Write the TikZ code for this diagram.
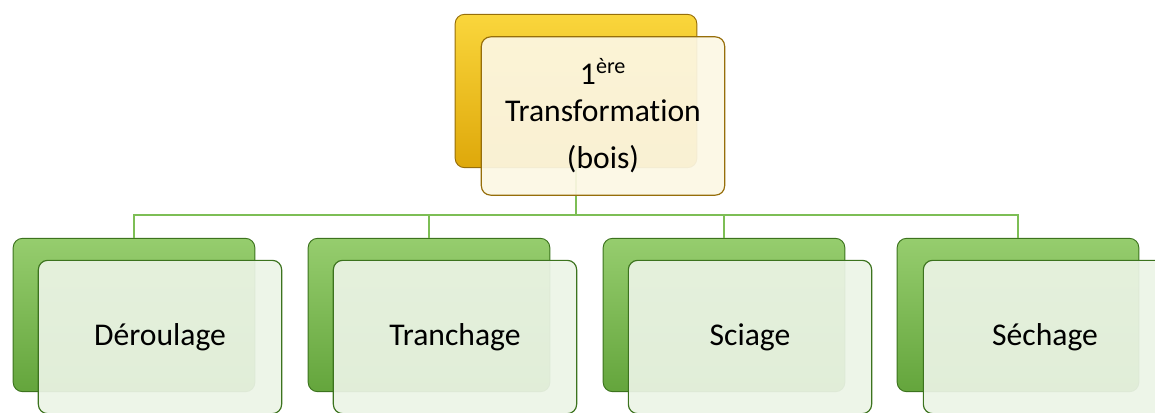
\documentclass[tikz,border=0pt]{standalone}
\usepackage{fontspec}
\setmainfont{Carlito}[Ligatures=NoCommon]
\usepackage{tikz}
\usetikzlibrary{positioning,calc}
\usepackage{xcolor}
\definecolor{goldA}{RGB}{250,214,60}
\definecolor{goldB}{RGB}{222,168,10}
\definecolor{goldline}{RGB}{150,110,10}
\definecolor{goldfront}{RGB}{252,247,228}
\definecolor{leafA}{RGB}{150,205,110}
\definecolor{leafB}{RGB}{100,165,60}
\definecolor{leafline}{RGB}{60,115,30}
\definecolor{leaffront}{RGB}{236,244,230}
\definecolor{wire}{RGB}{125,190,85}

\begin{document}
\begin{tikzpicture}[x=0.03cm,y=-0.03cm,
  backbox/.style={rounded corners=8pt,minimum width=7.25cm,minimum height=4.6cm,line width=0.8pt},
  frontbox/.style={rounded corners=8pt,minimum width=7.3cm,minimum height=4.6cm,line width=1pt,
    fill opacity=0.92,text opacity=1,align=center,font=\fontsize{27}{32}\selectfont},
  link/.style={draw=wire,line width=1.2pt}]
\useasboundingbox (0,0) rectangle (1155,412);
% back boxes first
\node[backbox,draw=goldline,top color=goldA,bottom color=goldB] (topback) at (576,91) {};
\foreach \x [count=\i] in {134,429,724,1018}{
\node[backbox,draw=leafline,top color=leafA,bottom color=leafB] (back\i) at (\x,315) {};
}
% connectors
\coordinate (bus) at (576,215);
\foreach \i in {1,...,4}{
\draw[link] (topback.south) -- (bus) -| (back\i.north);
}
% front boxes
\node[frontbox,draw=goldline,fill=goldfront,minimum height=4.75cm] (top) at (603,116)
  {1\textsuperscript{ère}\\Transformation\\[8pt](bois)};
\foreach \x/\t [count=\i] in {160/Déroulage,455/Tranchage,750/Sciage,1045/Séchage}{
\node[frontbox,draw=leafline,fill=leaffront] (front\i) at (\x,337) {\t};
}
\end{tikzpicture}
\end{document}
